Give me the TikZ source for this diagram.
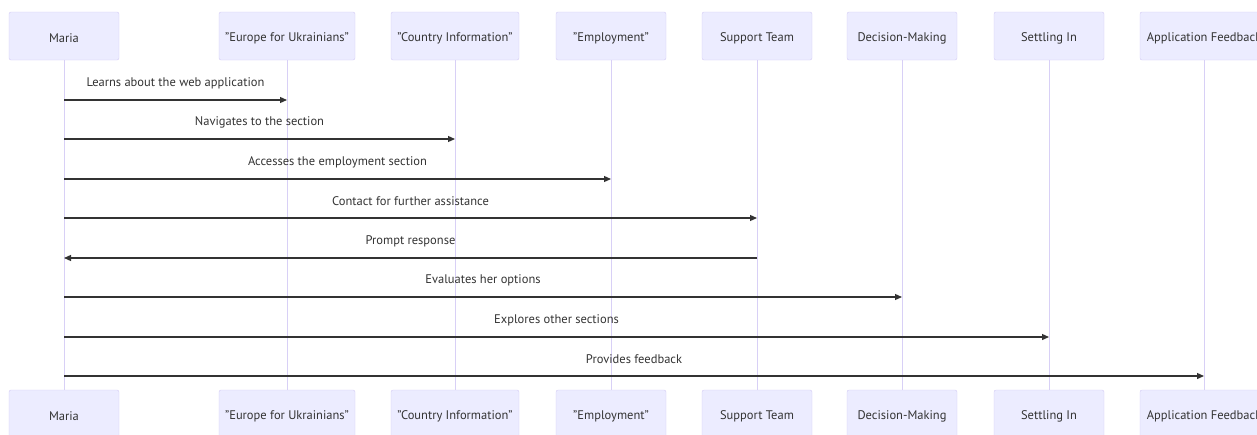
\documentclass[tikz,border=0pt]{standalone}
\usepackage{fontspec}
\setmainfont{PT Sans}
\usetikzlibrary{arrows.meta}

\definecolor{actorfill}{HTML}{ECECFF}
\definecolor{actorline}{HTML}{D2CAF4}
\definecolor{lifeline}{HTML}{D8D0F6}
\definecolor{msgline}{HTML}{333333}

\begin{document}
\begin{tikzpicture}[x=1pt,y=-1pt,
  actor/.style={draw=actorline, fill=actorfill, rounded corners=2pt, inner sep=0pt,
                minimum height=48pt, text=msgline, font=\fontsize{12.5}{14}\selectfont},
  life/.style={draw=lifeline, line width=1pt},
  msg/.style={draw=msgline, line width=1.2pt, -{Triangle[length=7pt,width=6pt]}},
  msgtext/.style={text=msgline, font=\fontsize{12.5}{14}\selectfont, inner sep=0pt}]

%─────────────
% Canvas
%─────────────
\path[use as bounding box] (0,0) rectangle (1257,434);
\clip (0,0) rectangle (1257,434);

\def\toprow{36}   % centre of the actor boxes on top
\def\botrow{414}  % centre of the actor boxes below

%─────────────
% Actors, on top and below, with their lifelines
%─────────────
\foreach \x/\w/\name/\txt in {64/110/maria/Maria,
    287/136/europe/"Europe for Ukrainians",
    455/128/country/"Country Information",
    611/110/employ/"Employment",
    757/110/support/Support Team,
    902/110/decide/Decision-Making,
    1049/110/settle/Settling In,
    1204/128/feedback/Application Feedback} {
  \node[actor, minimum width=\w pt] (\name-top) at (\x,\toprow) {};
  \node[text=msgline, font=\fontsize{12.5}{14}\selectfont] at ([yshift=-2pt]\name-top.center) {\txt};
  \node[actor, minimum width=\w pt] (\name-bot) at (\x,\botrow) {};
  \node[text=msgline, font=\fontsize{12.5}{14}\selectfont] at ([yshift=-2pt]\name-bot.center) {\txt};
  \draw[life] (\name-top.south) -- (\name-bot.north);
}

%─────────────
% Messages (from / to / height / text)
%─────────────
\foreach \from/\to/\y/\txt in {maria/europe/100/Learns about the web application,
    maria/country/139/Navigates to the section,
    maria/employ/179/Accesses the employment section,
    maria/support/218/Contact for further assistance,
    support/maria/258/Prompt response,
    maria/decide/297/Evaluates her options,
    maria/settle/337/Explores other sections,
    maria/feedback/376/Provides feedback} {
  \draw[msg] (\from-top |- 0,\y) -- (\to-top |- 0,\y)
    node[msgtext, midway, yshift=17pt] {\txt};
}

\end{tikzpicture}
\end{document}
